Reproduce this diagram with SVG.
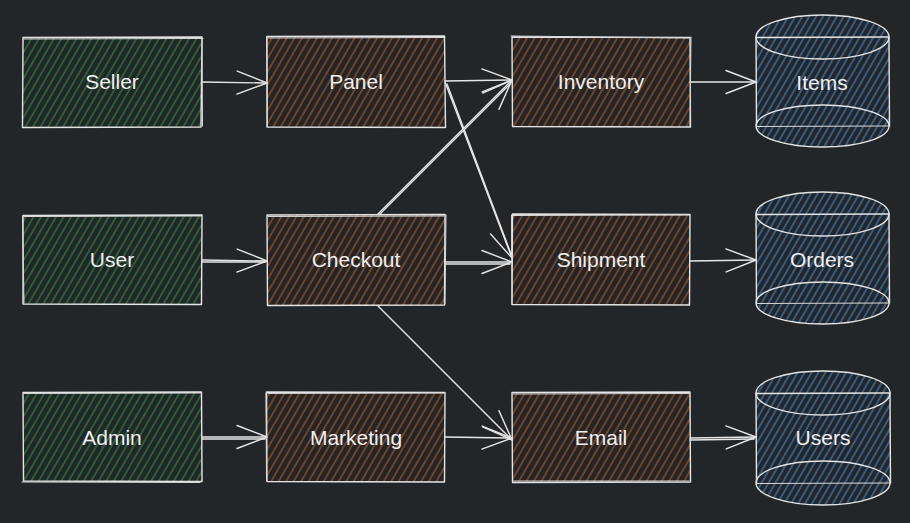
<svg xmlns="http://www.w3.org/2000/svg" width="910" height="523" viewBox="0 0 910 523">
<defs>
<pattern id="hg" width="6.5" height="6.5" patternUnits="userSpaceOnUse" patternTransform="rotate(30)"><line x1="1" y1="0" x2="1" y2="6.5" stroke="#2f9e44" stroke-width="0.9"/></pattern>
<pattern id="hb" width="6.5" height="6.5" patternUnits="userSpaceOnUse" patternTransform="rotate(30)"><line x1="1" y1="0" x2="1" y2="6.5" stroke="#d0601f" stroke-width="0.9"/></pattern>
<pattern id="hu" width="6" height="6" patternUnits="userSpaceOnUse" patternTransform="rotate(30)"><line x1="1" y1="0" x2="1" y2="6" stroke="#4a8fd6" stroke-width="1"/></pattern>
<marker id="ah" markerUnits="userSpaceOnUse" markerWidth="34" markerHeight="28" refX="31" refY="13" orient="auto"><path d="M1,1.5 L31,13 L1,24.5" fill="none" stroke="#e6e6e6" stroke-width="1.4" stroke-linecap="round" stroke-linejoin="round"/></marker>
</defs>
<style>
.o{fill:none;stroke:#e4e4e4;stroke-width:1.4;stroke-linecap:round;stroke-linejoin:round}
.o2{fill:none;stroke:#d8d8d8;stroke-width:1;stroke-linecap:round}
.c{fill:none;stroke:#e6e6e6;stroke-width:1.4;stroke-linecap:round}
.t{font-family:"Liberation Sans","Noto Sans",sans-serif;font-size:21px;fill:#f0f0f0;text-anchor:middle;dominant-baseline:central}
</style>
<rect width="910" height="523" fill="#232629"/>

<g id="connectors">
<path class="c" d="M202,82 L267,83" marker-end="url(#ah)"/>
<path class="c" d="M445,81 L512,80" marker-end="url(#ah)"/>
<path class="c" d="M445,82 L512,258" marker-end="url(#ah)"/>
<path class="c" d="M447,84 L511,254"/>
<path class="c" d="M690,82 L756,82" marker-end="url(#ah)"/>
<path class="c" d="M202,260 L267,261" marker-end="url(#ah)"/>
<path class="c" d="M202,262 L265,262"/>
<path class="c" d="M378,214 L512,80" marker-end="url(#ah)"/>
<path class="c" d="M380,214 L510,84"/>
<path class="c" d="M445,262 L512,262" marker-end="url(#ah)"/>
<path class="c" d="M445,264 L510,264"/>
<path class="c" d="M690,261 L756,260" marker-end="url(#ah)"/>
<path class="c" d="M378,306 L512,440" marker-end="url(#ah)"/>
<path class="c" d="M202,437 L267,437" marker-end="url(#ah)"/>
<path class="c" d="M202,439 L265,439"/>
<path class="c" d="M445,437 L512,438" marker-end="url(#ah)"/>
<path class="c" d="M690,438 L756,437" marker-end="url(#ah)"/>
<path class="c" d="M690,440 L754,439"/>
</g>

<g id="seller">
<rect x="23" y="38" width="179" height="89" fill="url(#hg)"/>
<path class="o" d="M23,37.5 L202,37 L201,127 L22.5,127.5 Z"/>
<path class="o2" d="M24,39 L203,38.5 M202,38 L202.5,126"/>
<text class="t" x="112" y="81">Seller</text>
</g>
<g id="user">
<rect x="23" y="216" width="179" height="88" fill="url(#hg)"/>
<path class="o" d="M23,215.5 L202,215 L201.5,304.5 L23,304 Z"/>
<path class="o2" d="M24,216.5 L201,216 M24,303 L22.5,216"/>
<text class="t" x="112" y="259">User</text>
</g>
<g id="admin">
<rect x="23" y="393" width="179" height="88" fill="url(#hg)"/>
<path class="o" d="M23,392.5 L201.5,392 L202,481.5 L23.5,481 Z"/>
<path class="o2" d="M24,393.5 L201,393 M22,482 L200,482.5"/>
<text class="t" x="112" y="437">Admin</text>
</g>

<g id="panel">
<rect x="267" y="37" width="178" height="90" fill="url(#hb)"/>
<path class="o" d="M267,36.5 L444.5,36 L445.5,127.5 L267,127 Z"/>
<path class="o2" d="M268,38 L445,37.5 M266.5,37 L267.5,126"/>
<text class="t" x="356" y="81">Panel</text>
</g>
<g id="checkout">
<rect x="267" y="215" width="178" height="90" fill="url(#hb)"/>
<path class="o" d="M267,215 L445,214.5 L444.5,305 L267.5,305.5 Z"/>
<path class="o2" d="M268,216.5 L444,216 M446,215 L445,304"/>
<text class="t" x="356" y="259">Checkout</text>
</g>
<g id="marketing">
<rect x="267" y="392" width="178" height="90" fill="url(#hb)"/>
<path class="o" d="M266.5,392 L445,392.5 L444.5,482 L267,481.5 Z"/>
<path class="o2" d="M268,393.5 L444,393 M266,393 L266.5,481"/>
<text class="t" x="356" y="437">Marketing</text>
</g>

<g id="inventory">
<rect x="512" y="37" width="178" height="90" fill="url(#hb)"/>
<path class="o" d="M512,37 L690,37.5 L690.5,127 L512.5,126.5 Z"/>
<path class="o2" d="M511,36 L689,38 M691,37 L690,126"/>
<text class="t" x="601" y="81">Inventory</text>
</g>
<g id="shipment">
<rect x="512" y="214" width="178" height="91" fill="url(#hb)"/>
<path class="o" d="M512.5,214 L690,214.5 L689.5,305 L512,304.5 Z"/>
<path class="o2" d="M513,215.5 L689,215 M511.5,215 L512,304"/>
<text class="t" x="601" y="259">Shipment</text>
</g>
<g id="email">
<rect x="512" y="392" width="178" height="90" fill="url(#hb)"/>
<path class="o" d="M512,392.5 L690,392 L690.5,482 L512.5,482.5 Z"/>
<path class="o2" d="M513,394 L689,393.5 M689,481 L513,481"/>
<text class="t" x="601" y="437">Email</text>
</g>

<g id="items">
<path d="M756,37 A66.5,22 0 0 1 889,37 L889,126 A66.5,21 0 0 1 756,126 Z" fill="url(#hu)"/>
<ellipse class="o" cx="822.5" cy="37" rx="66.5" ry="22"/>
<path class="o" d="M756,37 L756.5,126 M889,37 L889.5,126 M757,37.5 L888,37"/>
<ellipse class="o" cx="822.5" cy="126" rx="66.5" ry="21"/>
<path class="o2" d="M757,126.5 L888,126"/>
<text class="t" x="822" y="82">Items</text>
</g>
<g id="orders">
<path d="M756,214 A66.5,22 0 0 1 889,214 L889,303 A66.5,21 0 0 1 756,303 Z" fill="url(#hu)"/>
<ellipse class="o" cx="822.5" cy="214" rx="66.5" ry="22"/>
<path class="o" d="M756,214 L756.5,303 M889,214 L889.5,303 M757,214.5 L888,214"/>
<ellipse class="o" cx="822.5" cy="303" rx="66.5" ry="21"/>
<path class="o2" d="M757,303.5 L888,303"/>
<text class="t" x="822" y="259">Orders</text>
</g>
<g id="users">
<path d="M756,393 A67,22 0 0 1 890,393 L890,483 A67,22 0 0 1 756,483 Z" fill="url(#hu)"/>
<ellipse class="o" cx="823" cy="393" rx="67" ry="22"/>
<path class="o" d="M756,393 L756.5,483 M890,393 L890.5,483 M757,393.5 L889,393"/>
<ellipse class="o" cx="823" cy="483" rx="67" ry="22"/>
<path class="o2" d="M757,483.5 L889,483"/>
<text class="t" x="823" y="437">Users</text>
</g>
</svg>
